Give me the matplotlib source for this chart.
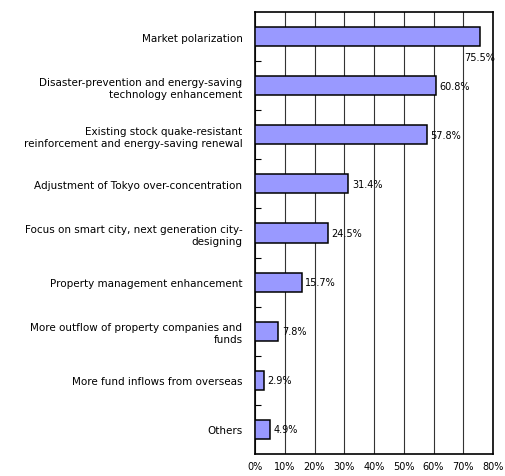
import numpy as np
import matplotlib.pyplot as plt

categories = ['Market polarization',
              'Disaster-prevention and energy-saving\ntechnology enhancement',
              'Existing stock quake-resistant\nreinforcement and energy-saving renewal',
              'Adjustment of Tokyo over-concentration',
              'Focus on smart city, next generation city-\ndesigning',
              'Property management enhancement',
              'More outflow of property companies and\nfunds',
              'More fund inflows from overseas',
              'Others']
values = [75.5, 60.8, 57.8, 31.4, 24.5, 15.7, 7.8, 2.9, 4.9]
xticks = [0, 10, 20, 30, 40, 50, 60, 70, 80]

plt.rcParams['font.family'] = ['DejaVu Sans']
fig = plt.figure(figsize=(5.05, 4.77), dpi=100)
ax = fig.add_axes([255/505, 22/477, 238/505, 442/477])

y = np.arange(len(categories))
ax.barh(y, values, height=0.39, color='#9999FF', edgecolor='black', linewidth=1.1, zorder=3)

for i, v in enumerate(values):
    if i == 0:
        ax.text(80.6, i + 0.42, f'{v}%', fontsize=7, ha='right', va='center', clip_on=False)
    else:
        ax.text(v + 1.2, i, f'{v}%', fontsize=7, ha='left', va='center')

ax.set_xlim(0, 80)
ax.set_ylim(len(categories) - 0.5, -0.5)
ax.set_xticks(xticks)
ax.set_xticklabels([f'{t}%' for t in xticks], fontsize=7)
ax.set_yticks(y)
ax.set_yticklabels(categories, fontsize=7.5, linespacing=1.25)
ax.set_yticks(np.arange(0.5, len(categories) - 1, 1), minor=True)
ax.tick_params(axis='y', which='major', length=0, pad=9)
ax.tick_params(axis='y', which='minor', length=4, direction='in', width=0.8)
ax.tick_params(axis='x', length=0, pad=5)
ax.grid(axis='x', color='#333333', linewidth=0.8, zorder=0)
for s in ax.spines.values():
    s.set_linewidth(1.2)

fig.savefig('out.png', dpi=100)
